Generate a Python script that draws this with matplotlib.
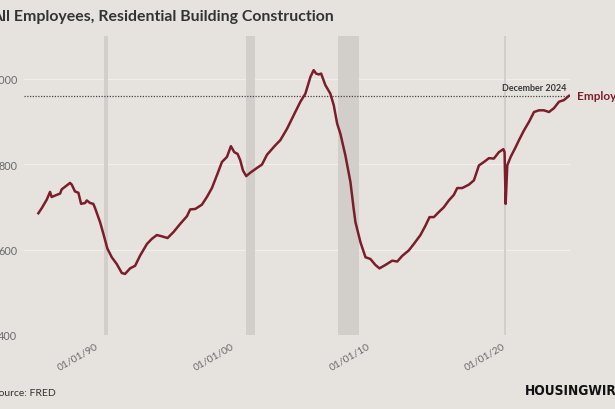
import matplotlib
matplotlib.use('Agg')
import matplotlib.pyplot as plt

# monthly-ish points (decimal year, thousands of employees)
years = [1985.81, 1986.06, 1986.43, 1986.67, 1986.79, 1987.16, 1987.41, 1987.53, 1987.90,
         1988.14, 1988.27, 1988.51, 1988.76, 1988.96, 1989.25, 1989.38, 1989.62, 1989.86,
         1989.99, 1990.36, 1990.60, 1990.90, 1991.22, 1991.59, 1991.96, 1992.20, 1992.57,
         1992.94, 1993.31, 1993.81, 1994.17, 1994.54, 1994.91, 1995.33, 1995.77, 1996.26,
         1996.76, 1997.00, 1997.37, 1997.86, 1998.23, 1998.60, 1998.97, 1999.34, 1999.71,
         2000.00, 2000.25, 2000.49, 2000.69, 2000.89, 2001.13, 2001.43, 2001.92, 2002.29,
         2002.66, 2003.27, 2003.64, 2004.14, 2004.62, 2005.12, 2005.49, 2005.86, 2006.10,
         2006.28, 2006.47, 2006.65, 2006.96, 2007.33, 2007.58, 2007.83, 2008.07, 2008.44,
         2008.81, 2009.05, 2009.18, 2009.55, 2009.92, 2010.28, 2010.65, 2010.95, 2011.39,
         2011.89, 2012.26, 2012.62, 2013.11, 2013.48, 2013.97, 2014.34, 2014.64, 2014.96,
         2015.33, 2015.69, 2016.06, 2016.43, 2016.68, 2017.05, 2017.54, 2017.91, 2018.28,
         2018.65, 2019.02, 2019.38, 2019.75, 2020.08, 2020.17, 2020.25, 2020.37, 2020.62,
         2020.99, 2021.23, 2021.60, 2021.97, 2022.34, 2022.71, 2023.07, 2023.44, 2023.81,
         2024.18, 2024.55, 2024.92]
employees = [685, 697, 717, 735, 723, 728, 731, 741, 750,
             756, 752, 736, 733, 707, 709, 715, 709, 707,
             697, 664, 637, 602, 582, 566, 545, 543, 556,
             562, 586, 613, 625, 634, 631, 627, 641, 660,
             678, 694, 695, 705, 723, 744, 774, 805, 817,
             842, 828, 824, 809, 785, 772, 780, 791, 799,
             822, 844, 856, 883, 914, 946, 965, 1004, 1020,
             1012, 1010, 1012, 985, 965, 938, 895, 871, 820,
             758, 695, 664, 617, 582, 578, 564, 556, 564,
             574, 572, 585, 598, 613, 634, 656, 676, 676,
             688, 699, 715, 728, 744, 744, 752, 762, 797,
             805, 814, 813, 828, 835, 828, 707, 797, 817,
             840, 856, 879, 899, 922, 926, 926, 922, 931,
             946, 950, 960]

rec_start = [1990.62, 2001.14, 2007.92, 2020.10]
rec_end = [1990.95, 2001.80, 2009.42, 2020.25]

tick_years = [1990, 2000, 2010, 2020]
tick_labels = ['01/01/90', '01/01/00', '01/01/10', '01/01/20']
y_ticks = [400, 600, 800, 1000]

bg = '#E6E3DE'
red = '#7B1D2A'

plt.rcParams['font.family'] = ['Lato', 'DejaVu Sans']

fig = plt.figure(figsize=(6.15, 4.1), dpi=100, facecolor=bg)
ax = fig.add_axes([0.039, 0.1805, 0.888, 0.7293])
ax.set_facecolor(bg)

for s, e in zip(rec_start, rec_end):
    ax.axvspan(s, e, color='#D2CFCB', lw=0, zorder=1)

ax.set_yticks(y_ticks)
ax.yaxis.grid(True, color='#F1EFEC', lw=0.9, zorder=0)
ax.set_axisbelow(True)

ax.axhline(employees[-1], xmin=0, xmax=(years[-1] - 1984.75) / (2025.0 - 1984.75),
           color='#444444', ls=(0, (1, 1.2)), lw=0.9, zorder=2)
ax.plot(years, employees, color=red, lw=1.8, zorder=3)

ax.set_xlim(1984.75, 2025.0)
ax.set_ylim(400, 1100)

ax.set_xticks(tick_years)
ax.set_xticklabels(tick_labels, rotation=30, ha='right', rotation_mode='anchor')
ax.tick_params(axis='x', length=0, pad=4, labelsize=7.5, labelcolor='#6A6A6A')
ax.tick_params(axis='y', length=0, pad=5, labelsize=7.8, labelcolor='#6A6A6A')
for sp in ax.spines.values():
    sp.set_visible(False)

ax.text(years[-1] - 0.2, employees[-1] + 9, 'December 2024', ha='right', va='bottom',
        fontsize=6.5, fontweight='bold', color='#3A3A3A')
ax.annotate('Employees', xy=(years[-1], employees[-1]), xytext=(6, 0),
            textcoords='offset points', ha='left', va='center',
            fontsize=8.5, fontweight='bold', color=red, annotation_clip=False)

fig.text(-0.014, 0.958, 'All Employees, Residential Building Construction', ha='left', va='center',
         fontsize=11.4, fontweight='bold', color='#333333')
fig.text(-0.011, 0.041, 'Source: FRED', ha='left', va='center', fontsize=7.5, color='#333333')
fig.text(0.853, 0.046, 'HOUSINGWIRE', ha='left', va='center', fontsize=9.8, fontweight='bold',
         fontstretch='condensed', color='#111111', family='DejaVu Sans')

fig.savefig('out.png', dpi=100, facecolor=bg)
